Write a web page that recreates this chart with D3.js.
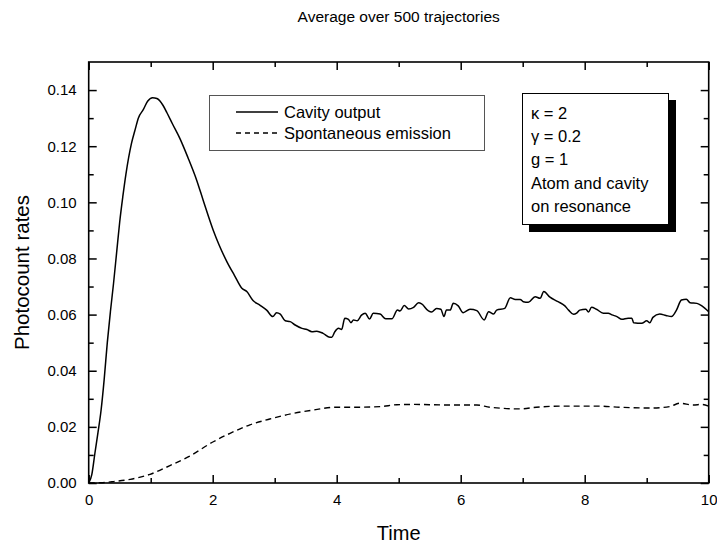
<!DOCTYPE html>
<html><head><meta charset="utf-8">
<script src="https://cdn.jsdelivr.net/npm/d3@7"></script>
<style>
body{margin:0;background:#fff;}
svg{display:block;font-family:"Liberation Sans",Arial,sans-serif;}
</style></head>
<body><svg id="c" width="717" height="549"></svg>
<script>
const titleText = "Average over 500 trajectories";
const xLabel = "Time";
const yLabel = "Photocount rates";
const seriesNames = ["Cavity output", "Spontaneous emission"];
const paramLines = ["\u03ba = 2", "\u03b3 = 0.2", "g = 1", "Atom and cavity", "on resonance"];
const xTicks = [0, 2, 4, 6, 8, 10];
const yTicks = [0, 0.02, 0.04, 0.06, 0.08, 0.10, 0.12, 0.14];

const cavityTime = [0,0.05,0.1,0.15,0.2,0.25,0.3,0.35,0.4,0.45,
0.5,0.55,0.6,0.69,0.75,0.8,0.88,0.95,1.03,1.1,
1.2,1.26,1.35,1.47,1.6,1.74,1.85,2.01,2.1,2.23,
2.35,2.47,2.55,2.65,2.76,2.87,2.97,3.03,3.09,3.17,
3.25,3.33,3.44,3.52,3.60,3.68,3.78,3.89,3.92,3.97,
4.03,4.08,4.13,4.19,4.23,4.27,4.33,4.40,4.46,4.53,
4.59,4.70,4.79,4.89,4.98,5.02,5.09,5.16,5.24,5.32,
5.37,5.48,5.53,5.61,5.68,5.73,5.77,5.83,5.88,5.96,
6.04,6.15,6.26,6.38,6.45,6.53,6.58,6.71,6.80,6.88,
6.96,7.01,7.09,7.20,7.28,7.34,7.44,7.57,7.68,7.74,
7.82,7.87,7.92,8.02,8.06,8.11,8.19,8.30,8.38,8.44,
8.52,8.60,8.70,8.76,8.79,8.92,9.00,9.05,9.10,9.21,
9.31,9.40,9.48,9.56,9.64,9.70,9.81,9.89,10.0];
const cavityRate = [0,0.003,0.0106,0.018,0.026,0.037,0.050,0.061,0.071,0.082,
0.093,0.102,0.110,0.121,0.126,0.130,0.133,0.136,0.1373,0.1370,
0.1345,0.132,0.128,0.1228,0.116,0.108,0.1005,0.090,0.085,0.0788,
0.074,0.0694,0.0682,0.065,0.0634,0.0616,0.0593,0.0607,0.0602,0.0578,
0.0575,0.0563,0.0551,0.0547,0.0539,0.0541,0.0533,0.0519,0.0519,0.0539,
0.0551,0.0547,0.0587,0.0583,0.0571,0.0581,0.0578,0.0598,0.0605,0.0584,
0.0605,0.0602,0.0585,0.0585,0.0616,0.0613,0.0632,0.062,0.0626,0.0642,
0.0638,0.0613,0.0609,0.0622,0.0619,0.0593,0.0616,0.0616,0.064,0.0631,
0.0607,0.0619,0.0614,0.0581,0.061,0.0602,0.0616,0.0622,0.066,0.0654,
0.0654,0.0646,0.0644,0.0664,0.0658,0.0682,0.0662,0.0646,0.0631,0.0616,
0.0601,0.0605,0.0616,0.0619,0.0609,0.0626,0.0619,0.0605,0.0605,0.0599,
0.0593,0.0583,0.0587,0.0587,0.0571,0.0569,0.0578,0.0571,0.059,0.0602,
0.0597,0.0593,0.0616,0.0652,0.0655,0.0642,0.064,0.0631,0.061];

const spontTime = [0,0.2,0.4,0.67,0.99,1.31,1.63,2.01,2.28,2.60,2.92,3.30,3.62,4.0,4.32,4.70,4.97,5.24,5.77,6.26,6.47,6.96,7.22,7.66,8.19,8.57,9.05,9.37,9.53,9.75,9.89,10.0];
const spontRate = [0,0.0001,0.0005,0.0013,0.0031,0.0062,0.0096,0.0147,0.0177,0.0207,0.0228,0.0248,0.026,0.027,0.027,0.0272,0.0279,0.028,0.0278,0.0278,0.027,0.0264,0.027,0.0274,0.0274,0.027,0.0267,0.0272,0.0284,0.0278,0.028,0.0274];

const svg = d3.select("#c");
const L = 88.7, R = 708.7, T = 62, B = 483;
const x = d3.scaleLinear().domain([0, 10]).range([L, R]);
const y = d3.scaleLinear().domain([0, 0.15]).range([B, T]);

// title and labels
svg.append("text").attr("x", (L + R) / 2).attr("y", 22).attr("text-anchor", "middle")
  .attr("font-size", 15.5).text(titleText);
svg.append("text").attr("x", (L + R) / 2).attr("y", 540).attr("text-anchor", "middle")
  .attr("font-size", 20).text(xLabel);
svg.append("text").attr("transform", `translate(29,${(T + B) / 2}) rotate(-90)`)
  .attr("text-anchor", "middle").attr("font-size", 20.5).text(yLabel);

// curves
const cav = cavityTime.map((t, i) => [t, cavityRate[i]]);
const spo = spontTime.map((t, i) => [t, spontRate[i]]);
const line = d3.line().x(d => x(d[0])).y(d => y(d[1])).curve(d3.curveMonotoneX);
svg.append("path").datum(spo).attr("d", line).attr("fill", "none").attr("stroke", "#000")
  .attr("stroke-width", 1.4).attr("stroke-dasharray", "6,4");
svg.append("path").datum(cav).attr("d", line).attr("fill", "none").attr("stroke", "#000")
  .attr("stroke-width", 1.5);

// axes
const fmtY = d3.format(".2f");
function styleAxis(g) {
  g.selectAll(".domain").remove();
  g.selectAll("line").attr("stroke", "#000").attr("stroke-width", 1.5);
  g.selectAll("text").attr("font-size", 15).attr("fill", "#000")
    .attr("font-family", '"Liberation Sans",Arial,sans-serif');
}
const xMinor = d3.range(1, 10, 2);
const yMinor = d3.range(0.01, 0.15, 0.02);

svg.append("g").attr("transform", `translate(0,${B})`)
  .call(d3.axisBottom(x).tickValues(xTicks).tickSize(-8).tickPadding(11).tickFormat(d3.format("d"))).call(styleAxis);
svg.append("g").attr("transform", `translate(0,${B})`)
  .call(d3.axisBottom(x).tickValues(xMinor).tickSize(-5).tickFormat("")).call(styleAxis);
svg.append("g").attr("transform", `translate(0,${T})`)
  .call(d3.axisTop(x).tickValues(xTicks).tickSize(-8).tickFormat("")).call(styleAxis);
svg.append("g").attr("transform", `translate(0,${T})`)
  .call(d3.axisTop(x).tickValues(xMinor).tickSize(-5).tickFormat("")).call(styleAxis);

svg.append("g").attr("transform", `translate(${L},0)`)
  .call(d3.axisLeft(y).tickValues(yTicks).tickSize(-8).tickPadding(12).tickFormat(fmtY)).call(styleAxis);
svg.append("g").attr("transform", `translate(${L},0)`)
  .call(d3.axisLeft(y).tickValues(yMinor).tickSize(-5).tickFormat("")).call(styleAxis);
svg.append("g").attr("transform", `translate(${R},0)`)
  .call(d3.axisRight(y).tickValues(yTicks).tickSize(-8).tickFormat("")).call(styleAxis);
svg.append("g").attr("transform", `translate(${R},0)`)
  .call(d3.axisRight(y).tickValues(yMinor).tickSize(-5).tickFormat("")).call(styleAxis);

// frame
svg.append("rect").attr("x", L).attr("y", T).attr("width", R - L).attr("height", B - T)
  .attr("fill", "none").attr("stroke", "#000").attr("stroke-width", 1.6);

// legend
const lg = svg.append("g");
lg.append("rect").attr("x", 209.5).attr("y", 95.5).attr("width", 275).attr("height", 55)
  .attr("fill", "#fff").attr("stroke", "#555").attr("stroke-width", 1);
const legendRows = [{y: 112, dash: null}, {y: 133, dash: "5,4"}];
legendRows.forEach((r, i) => {
  lg.append("line").attr("x1", 236).attr("x2", 278).attr("y1", r.y).attr("y2", r.y)
    .attr("stroke", "#000").attr("stroke-width", 1.4).attr("stroke-dasharray", r.dash);
  lg.append("text").attr("x", 284).attr("y", r.y + 5.5).attr("font-size", 16.5).text(seriesNames[i]);
});

// parameter box with shadow
const pb = svg.append("g");
pb.append("rect").attr("x", 529).attr("y", 100).attr("width", 147).attr("height", 132).attr("fill", "#000");
pb.append("rect").attr("x", 522.5).attr("y", 93.5).attr("width", 146).attr("height", 131)
  .attr("fill", "#fff").attr("stroke", "#000").attr("stroke-width", 1);
paramLines.forEach((s, i) => {
  pb.append("text").attr("x", 531).attr("y", 119 + i * 23.2).attr("font-size", 16.5).text(s);
});
</script></body></html>
